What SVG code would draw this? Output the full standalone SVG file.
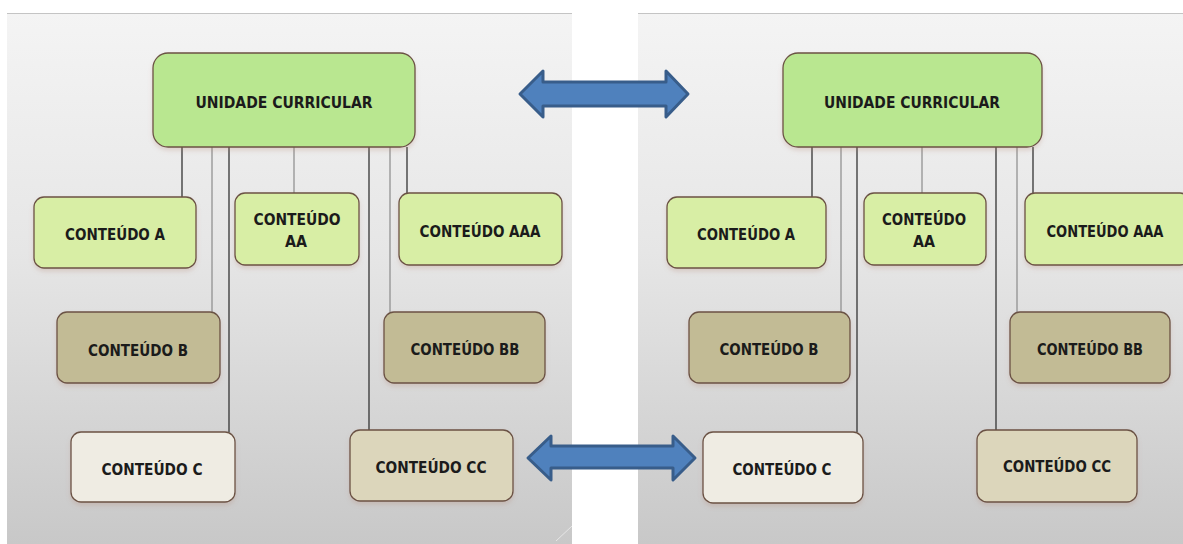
<svg xmlns="http://www.w3.org/2000/svg" width="1183" height="544" viewBox="0 0 1183 544">
  <defs>
    <linearGradient id="bg" x1="0" y1="0" x2="0" y2="1">
      <stop offset="0" stop-color="#f4f4f4"/>
      <stop offset="0.45" stop-color="#e6e6e6"/>
      <stop offset="1" stop-color="#c8c8c8"/>
    </linearGradient>
    <filter id="sh" x="-10%" y="-10%" width="120%" height="130%">
      <feDropShadow dx="0" dy="3" stdDeviation="2" flood-color="#b08070" flood-opacity="0.25"/>
    </filter>
  </defs>
  <style>
    .panel { fill: url(#bg); }
    .edge { stroke: #c4c4c4; stroke-width: 1; }
    .box { stroke: #6b5244; stroke-width: 1.3; filter: url(#sh); }
    .uc { fill: #b9e790; }
    .ga { fill: #d8eea5; }
    .gb { fill: #c2bb95; }
    .gc { fill: #efece3; }
    .gcc { fill: #dcd6bb; }
    .lbl { font-family: "DejaVu Sans", "Liberation Sans", sans-serif; font-weight: bold; font-size: 16px; fill: #1b1b1b; text-anchor: middle; font-stretch: condensed; }
    .dark { stroke: #333333; stroke-width: 1.3; }
    .light { stroke: #8a8a8a; stroke-width: 1.2; }
    .arrow { fill: #4f81bd; stroke: #385d8a; stroke-width: 3; stroke-linejoin: round; }
  </style>

  <rect width="1183" height="544" fill="#ffffff"/>
  <rect class="panel" x="7" y="13" width="565" height="531"/>
  <rect class="panel" x="638" y="13" width="545" height="531"/>
  <line class="edge" x1="7" y1="13.5" x2="572" y2="13.5"/>
  <line class="edge" x1="638" y1="13.5" x2="1183" y2="13.5"/>
  <line x1="556" y1="541" x2="572" y2="526" stroke="#e6e6e6" stroke-width="1"/>

  <g id="connectors">
    <line class="dark" x1="182" y1="147" x2="182" y2="198"/>
    <line class="light" x1="212" y1="147" x2="212" y2="312"/>
    <line class="dark" x1="229" y1="147" x2="229" y2="432"/>
    <line class="light" x1="294" y1="147" x2="294" y2="193"/>
    <line class="dark" x1="369" y1="147" x2="369" y2="430"/>
    <line class="light" x1="390" y1="147" x2="390" y2="312"/>
    <line class="dark" x1="407" y1="147" x2="407" y2="193"/>

    <line class="dark" x1="812" y1="147" x2="812" y2="198"/>
    <line class="light" x1="841" y1="147" x2="841" y2="312"/>
    <line class="dark" x1="857" y1="147" x2="857" y2="432"/>
    <line class="light" x1="922" y1="147" x2="922" y2="193"/>
    <line class="dark" x1="996" y1="147" x2="996" y2="430"/>
    <line class="light" x1="1017" y1="147" x2="1017" y2="312"/>
    <line class="dark" x1="1033" y1="147" x2="1033" y2="193"/>

    <path class="arrow" d="M520,94 L543,71 L543,82 L666,82 L666,71 L688,94 L666,117 L666,106 L543,106 L543,117 Z"/>
    <path class="arrow" d="M528,458 L551,436 L551,446 L673,446 L673,436 L695,458 L673,480 L673,468 L551,468 L551,480 Z"/>
  </g>

  <!-- Left panel -->
  <g id="uc-left">
    <rect class="box uc" x="153" y="53" width="262" height="94" rx="15"/>
    <text class="lbl" x="284" y="108" textLength="177" lengthAdjust="spacingAndGlyphs">UNIDADE CURRICULAR</text>
  </g>
  <g id="a-left">
    <rect class="box ga" x="34" y="197" width="162" height="71" rx="10"/>
    <text class="lbl" x="115" y="240" textLength="100" lengthAdjust="spacingAndGlyphs">CONTEÚDO A</text>
  </g>
  <g id="aa-left">
    <rect class="box ga" x="235" y="193" width="124" height="72" rx="10"/>
    <text class="lbl" x="297" y="225" textLength="87" lengthAdjust="spacingAndGlyphs">CONTEÚDO</text>
    <text class="lbl" x="296" y="247" textLength="22" lengthAdjust="spacingAndGlyphs">AA</text>
  </g>
  <g id="aaa-left">
    <rect class="box ga" x="399" y="193" width="163" height="72" rx="10"/>
    <text class="lbl" x="480" y="237" textLength="121" lengthAdjust="spacingAndGlyphs">CONTEÚDO AAA</text>
  </g>
  <g id="b-left">
    <rect class="box gb" x="57" y="312" width="163" height="71" rx="10"/>
    <text class="lbl" x="138" y="356" textLength="100" lengthAdjust="spacingAndGlyphs">CONTEÚDO B</text>
  </g>
  <g id="bb-left">
    <rect class="box gb" x="384" y="312" width="161" height="71" rx="10"/>
    <text class="lbl" x="465" y="355" textLength="109" lengthAdjust="spacingAndGlyphs">CONTEÚDO BB</text>
  </g>
  <g id="c-left">
    <rect class="box gc" x="71" y="432" width="164" height="70" rx="10"/>
    <text class="lbl" x="152" y="475" textLength="101" lengthAdjust="spacingAndGlyphs">CONTEÚDO C</text>
  </g>
  <g id="cc-left">
    <rect class="box gcc" x="350" y="430" width="163" height="71" rx="10"/>
    <text class="lbl" x="431" y="473" textLength="111" lengthAdjust="spacingAndGlyphs">CONTEÚDO CC</text>
  </g>

  <!-- Right panel -->
  <g id="uc-right">
    <rect class="box uc" x="783" y="53" width="259" height="94" rx="15"/>
    <text class="lbl" x="912" y="108" textLength="176" lengthAdjust="spacingAndGlyphs">UNIDADE CURRICULAR</text>
  </g>
  <g id="a-right">
    <rect class="box ga" x="667" y="197" width="159" height="71" rx="10"/>
    <text class="lbl" x="746" y="240" textLength="98" lengthAdjust="spacingAndGlyphs">CONTEÚDO A</text>
  </g>
  <g id="aa-right">
    <rect class="box ga" x="864" y="193" width="122" height="72" rx="10"/>
    <text class="lbl" x="924" y="225" textLength="84" lengthAdjust="spacingAndGlyphs">CONTEÚDO</text>
    <text class="lbl" x="924" y="247" textLength="22" lengthAdjust="spacingAndGlyphs">AA</text>
  </g>
  <g id="aaa-right">
    <rect class="box ga" x="1025" y="193" width="165" height="72" rx="10"/>
    <text class="lbl" x="1105" y="237" textLength="117" lengthAdjust="spacingAndGlyphs">CONTEÚDO AAA</text>
  </g>
  <g id="b-right">
    <rect class="box gb" x="689" y="312" width="161" height="71" rx="10"/>
    <text class="lbl" x="769" y="355" textLength="99" lengthAdjust="spacingAndGlyphs">CONTEÚDO B</text>
  </g>
  <g id="bb-right">
    <rect class="box gb" x="1010" y="312" width="160" height="71" rx="10"/>
    <text class="lbl" x="1090" y="355" textLength="106" lengthAdjust="spacingAndGlyphs">CONTEÚDO BB</text>
  </g>
  <g id="c-right">
    <rect class="box gc" x="703" y="432" width="160" height="71" rx="10"/>
    <text class="lbl" x="782" y="475" textLength="99" lengthAdjust="spacingAndGlyphs">CONTEÚDO C</text>
  </g>
  <g id="cc-right">
    <rect class="box gcc" x="977" y="430" width="160" height="72" rx="10"/>
    <text class="lbl" x="1057" y="472" textLength="108" lengthAdjust="spacingAndGlyphs">CONTEÚDO CC</text>
  </g>
</svg>
